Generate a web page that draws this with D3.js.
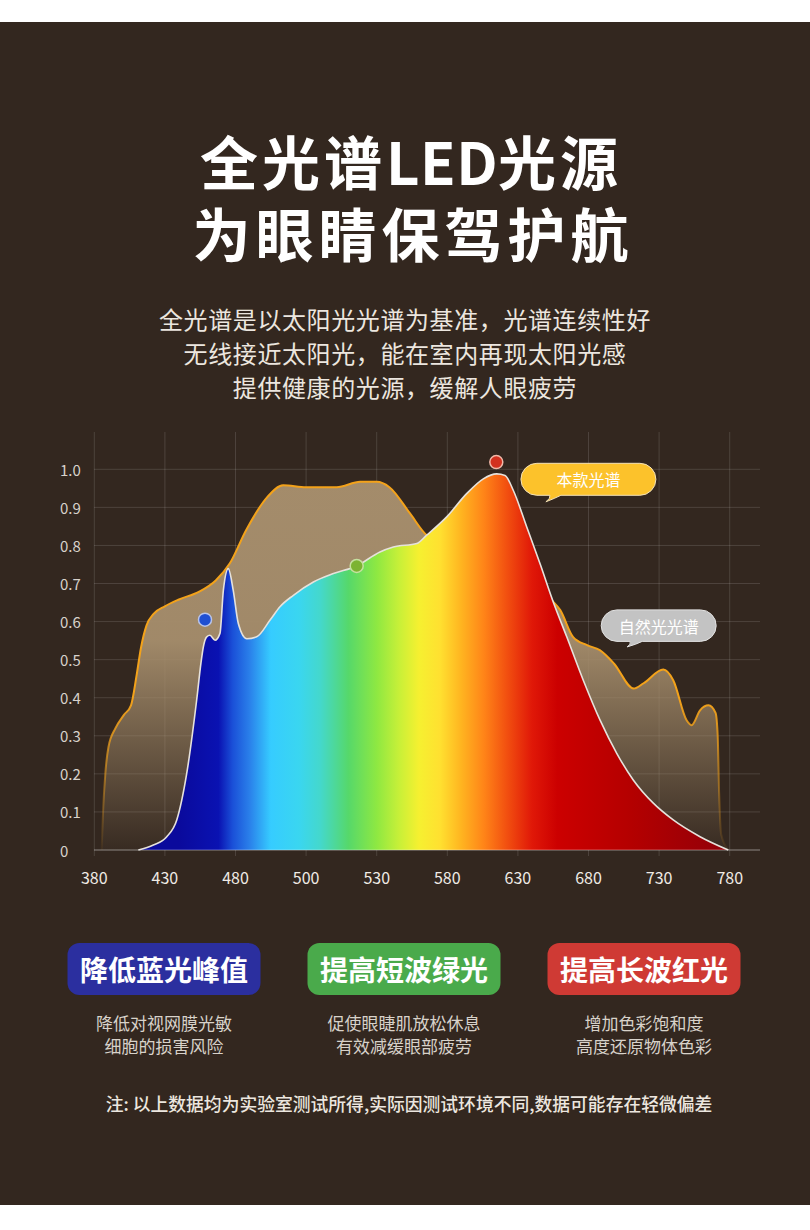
<!DOCTYPE html>
<html>
<head>
<meta charset="utf-8">
<script src="https://cdn.jsdelivr.net/npm/d3@7"></script>
<style>
  html, body { margin: 0; padding: 0; background: #ffffff; }
  svg { display: block; }
  text { font-family: "Noto Sans CJK SC", "Noto Sans", sans-serif; }
</style>
</head>
<body>
<svg id="chart" width="810" height="1230"></svg>
<script>
// tick labels on the wavelength axis (evenly spaced on screen)
const waveTicks = [380, 430, 480, 500, 530, 580, 630, 680, 730, 780];
const levelTicks = [0, 0.1, 0.2, 0.3, 0.4, 0.5, 0.6, 0.7, 0.8, 0.9, 1.0];

// natural light spectrum
const natWave  = [385.2, 386.2, 387.8, 390, 395, 401, 406, 410, 413, 417, 422, 430, 440, 454, 466, 476, 483, 489, 493.5, 500, 513, 523, 530, 539, 553.6, 565.4, 590, 617, 638, 654, 660, 669, 679, 688, 698, 712, 719, 733, 740, 749.5, 753, 759, 765, 770, 771.5, 772.5, 774, 779];
const natLevel = [0, 0.1, 0.2, 0.27, 0.32, 0.355, 0.38, 0.46, 0.53, 0.59, 0.62, 0.64, 0.658, 0.678, 0.708, 0.753, 0.84, 0.927, 0.958, 0.953, 0.953, 0.967, 0.967, 0.953, 0.884, 0.827, 0.79, 0.75, 0.70, 0.656, 0.63, 0.56, 0.538, 0.525, 0.49, 0.424, 0.438, 0.474, 0.446, 0.341, 0.328, 0.367, 0.38, 0.36, 0.30, 0.15, 0.04, 0];

// this product's LED spectrum
const ledWave  = [411.2, 421.8, 431.3, 438.4, 445.4, 452.5, 455.5, 457.2, 459.6, 461.9, 465.5, 469, 471.4, 474.9, 478.4, 480.8, 483.2, 486, 489.8, 492.6, 496.4, 503.1, 511.6, 521.5, 532.3, 541.8, 558.4, 565.4, 579.6, 593.7, 605.5, 615, 620.9, 626.7, 636.2, 645.7, 655.1, 664.6, 676.3, 688.2, 700, 711.7, 725.9, 740, 759, 779];
const ledLevel = [0, 0.013, 0.035, 0.079, 0.2, 0.394, 0.49, 0.533, 0.56, 0.564, 0.551, 0.569, 0.682, 0.739, 0.682, 0.595, 0.555, 0.56, 0.604, 0.639, 0.669, 0.704, 0.726, 0.746, 0.783, 0.796, 0.805, 0.827, 0.875, 0.936, 0.975, 0.988, 0.984, 0.945, 0.849, 0.752, 0.651, 0.56, 0.446, 0.341, 0.254, 0.184, 0.123, 0.079, 0.035, 0];

// spectrum colour stops by wavelength
const stopWave  = [440, 468, 478, 484, 490, 498, 506, 518, 530, 546, 560, 575, 590, 606, 622, 640, 658, 710, 770];
const stopColor = ["#0a0a9c", "#0a12b2", "#1a50d8", "#2a80ea", "#36ccff", "#3ad6f0", "#44d8cc", "#56d86a", "#8ee842", "#c8f038", "#f6f030", "#ffe030", "#ffb420", "#ff8418", "#f25010", "#e01808", "#cc0000", "#b40000", "#960008"];

// highlighted points
const markWave  = [458.4, 521.5, 614.7];
const markLevel = [0.605, 0.746, 1.019];
const markFill  = ["#1f4fd2", "#7cb332", "#d2311f"];
const markEdge  = ["#b8c4ea", "#c6e0a0", "#f0b8a8"];

const titleParts = [["全光谱", 4], ["LED", 0.5], ["光源", 4]];
const subtitle = ["全光谱是以太阳光光谱为基准，光谱连续性好", "无线接近太阳光，能在室内再现太阳光感", "提供健康的光源，缓解人眼疲劳"];
const badgeTitle = ["降低蓝光峰值", "提高短波绿光", "提高长波红光"];
const badgeColor = ["#2b2f9f", "#4aaa4b", "#cf3a34"];
const badgeNote  = [["降低对视网膜光敏", "细胞的损害风险"], ["促使眼睫肌放松休息", "有效减缓眼部疲劳"], ["增加色彩饱和度", "高度还原物体色彩"]];

const svg = d3.select("#chart");
const defs = svg.append("defs");

svg.append("rect")
	.attr("x", 0).attr("y", 22)
	.attr("width", 810).attr("height", 1183)
	.attr("fill", "#33271f");

// headline
svg.append("text")
	.attr("x", 411).attr("y", 160)
	.attr("text-anchor", "middle").attr("dominant-baseline", "central")
	.attr("font-size", 58).attr("font-weight", 700).attr("fill", "#ffffff")
	.selectAll("tspan").data(titleParts).join("tspan")
	.attr("letter-spacing", d => d[1])
	.text(d => d[0]);
svg.append("text")
	.attr("x", 413).attr("y", 232)
	.attr("text-anchor", "middle").attr("dominant-baseline", "central")
	.attr("font-size", 58).attr("font-weight", 700).attr("fill", "#ffffff")
	.attr("letter-spacing", 5)
	.text("为眼睛保驾护航");

svg.selectAll(".sub").data(subtitle).join("text")
	.attr("class", "sub")
	.attr("x", 405).attr("y", (d, i) => 318 + i * 34)
	.attr("text-anchor", "middle").attr("dominant-baseline", "central")
	.attr("font-size", 24).attr("fill", "#ece6df").attr("letter-spacing", 0.6)
	.text(d => d);

// scales
const x = d3.scaleLinear()
	.domain(waveTicks)
	.range(waveTicks.map((_, i) => 94.3 + i * 70.6));
const y = d3.scaleLinear().domain([0, 1]).range([850, 469.3]);

// grid
const grid = svg.append("g").attr("stroke", "rgba(255,255,255,0.13)").attr("stroke-width", 1);
grid.selectAll(".h").data(levelTicks).join("line")
	.attr("x1", 94).attr("x2", 760)
	.attr("y1", d => y(d)).attr("y2", d => y(d));
grid.selectAll(".v").data(waveTicks).join("line")
	.attr("x1", d => x(d)).attr("x2", d => x(d))
	.attr("y1", 432).attr("y2", 856);

// gradients
const natFill = defs.append("linearGradient")
	.attr("id", "natFill").attr("gradientUnits", "userSpaceOnUse")
	.attr("x1", 0).attr("x2", 0).attr("y1", y(1)).attr("y2", y(0));
natFill.append("stop").attr("offset", 0).attr("stop-color", "#a48c6b");
natFill.append("stop").attr("offset", 0.45).attr("stop-color", "#a48c6b").attr("stop-opacity", 0.97);
natFill.append("stop").attr("offset", 1).attr("stop-color", "#a48c6b").attr("stop-opacity", 0.04);

const natStroke = defs.append("linearGradient")
	.attr("id", "natStroke").attr("gradientUnits", "userSpaceOnUse")
	.attr("x1", 0).attr("x2", 0).attr("y1", y(1)).attr("y2", y(0));
natStroke.append("stop").attr("offset", 0).attr("stop-color", "#f3a21a");
natStroke.append("stop").attr("offset", 0.6).attr("stop-color", "#f3a21a");
natStroke.append("stop").attr("offset", 1).attr("stop-color", "#f3a21a").attr("stop-opacity", 0.05);

const ledFill = defs.append("linearGradient")
	.attr("id", "ledFill").attr("gradientUnits", "userSpaceOnUse")
	.attr("x1", x(380)).attr("x2", x(780)).attr("y1", 0).attr("y2", 0);
const span = x(780) - x(380);
ledFill.selectAll("stop").data(stopWave).join("stop")
	.attr("offset", d => (x(d) - x(380)) / span)
	.attr("stop-color", (d, i) => stopColor[i]);

// areas
const natData = natWave.map((w, i) => [w, natLevel[i]]);
const ledData = ledWave.map((w, i) => [w, ledLevel[i]]);

const area = d3.area().x(d => x(d[0])).y0(y(0)).y1(d => y(d[1])).curve(d3.curveMonotoneX);
const line = d3.line().x(d => x(d[0])).y(d => y(d[1])).curve(d3.curveMonotoneX);

svg.append("path").datum(natData).attr("d", area).attr("fill", "url(#natFill)");
svg.append("path").datum(natData).attr("d", line)
	.attr("fill", "none").attr("stroke", "url(#natStroke)").attr("stroke-width", 2);

svg.append("path").datum(ledData).attr("d", area).attr("fill", "url(#ledFill)");
svg.append("path").datum(ledData).attr("d", line)
	.attr("fill", "none").attr("stroke", "#e6e2dc").attr("stroke-width", 1.6);

// baseline
svg.append("line")
	.attr("x1", 94).attr("x2", 760).attr("y1", y(0)).attr("y2", y(0))
	.attr("stroke", "rgba(255,255,255,0.35)").attr("stroke-width", 1);

// markers
svg.selectAll(".mark").data(markWave).join("circle")
	.attr("class", "mark")
	.attr("cx", d => x(d)).attr("cy", (d, i) => y(markLevel[i]))
	.attr("r", 6.5)
	.attr("fill", (d, i) => markFill[i])
	.attr("stroke", (d, i) => markEdge[i]).attr("stroke-width", 1.5);

// callouts
function bubblePath(x0, y0, w, h, tailL, tailR, tipX, tipY) {
	const r = h / 2, yb = y0 + h;
	return `M${x0 + r},${y0} H${x0 + w - r} A${r},${r} 0 0 1 ${x0 + w - r},${yb}` +
		` H${tailR} Q${tailR - 6},${yb + 3} ${tipX},${tipY} Q${tailL + 1},${yb + 3} ${tailL},${yb}` +
		` H${x0 + r} A${r},${r} 0 0 1 ${x0 + r},${y0} Z`;
}

const bx1 = x(630) + 3, by1 = y(1.0) - 6;
svg.append("path")
	.attr("d", bubblePath(bx1, by1, 135, 32, bx1 + 29, bx1 + 40, bx1 + 25, by1 + 38.5))
	.attr("fill", "#fcc22b").attr("stroke", "#f4e2b8").attr("stroke-width", 1);
svg.append("text")
	.attr("x", bx1 + 67.5).attr("y", by1 + 16)
	.attr("text-anchor", "middle").attr("dominant-baseline", "central")
	.attr("font-size", 16).attr("fill", "#ffffff")
	.text("本款光谱");

const bx2 = x(680) + 12.7, by2 = y(0.6) - 11.7;
svg.append("path")
	.attr("d", bubblePath(bx2, by2, 115, 31.5, bx2 + 29, bx2 + 41, bx2 + 26, by2 + 37))
	.attr("fill", "#c3c3c3").attr("stroke", "#e2e2e2").attr("stroke-width", 1);
svg.append("text")
	.attr("x", bx2 + 57.5).attr("y", by2 + 16)
	.attr("text-anchor", "middle").attr("dominant-baseline", "central")
	.attr("font-size", 16).attr("fill", "#ffffff")
	.text("自然光光谱");

// axis labels
svg.selectAll(".xl").data(waveTicks).join("text")
	.attr("class", "xl")
	.attr("x", d => x(d)).attr("y", 877)
	.attr("text-anchor", "middle").attr("dominant-baseline", "central")
	.attr("font-size", 16).attr("fill", "#f0ebe5")
	.text(d => d);
svg.selectAll(".yl").data(levelTicks).join("text")
	.attr("class", "yl")
	.attr("x", 60).attr("y", d => y(d))
	.attr("dominant-baseline", "central")
	.attr("font-size", 15).attr("fill", "#d8d2cb")
	.text(d => d === 0 ? "0" : d3.format(".1f")(d));

// feature badges
const badges = svg.selectAll(".badge").data(badgeTitle).join("g")
	.attr("class", "badge")
	.attr("transform", (d, i) => `translate(${164 + i * 240},0)`);
badges.append("rect")
	.attr("x", -96.5).attr("y", 943).attr("width", 193).attr("height", 52).attr("rx", 12)
	.attr("fill", (d, i) => badgeColor[i]);
badges.append("text")
	.attr("y", 969)
	.attr("text-anchor", "middle").attr("dominant-baseline", "central")
	.attr("font-size", 28).attr("font-weight", 700).attr("fill", "#ffffff")
	.text(d => d);
badges.each(function(d, i) {
	d3.select(this).selectAll(".note").data(badgeNote[i]).join("text")
		.attr("class", "note")
		.attr("y", (t, j) => 1022 + j * 23)
		.attr("text-anchor", "middle").attr("dominant-baseline", "central")
		.attr("font-size", 17).attr("fill", "#d8d2ca")
		.text(t => t);
});

svg.append("text")
	.attr("x", 409).attr("y", 1103)
	.attr("text-anchor", "middle").attr("dominant-baseline", "central")
	.attr("font-size", 17.8).attr("font-weight", 500).attr("fill", "#ece6df")
	.text("注: 以上数据均为实验室测试所得,实际因测试环境不同,数据可能存在轻微偏差");
</script>
</body>
</html>
